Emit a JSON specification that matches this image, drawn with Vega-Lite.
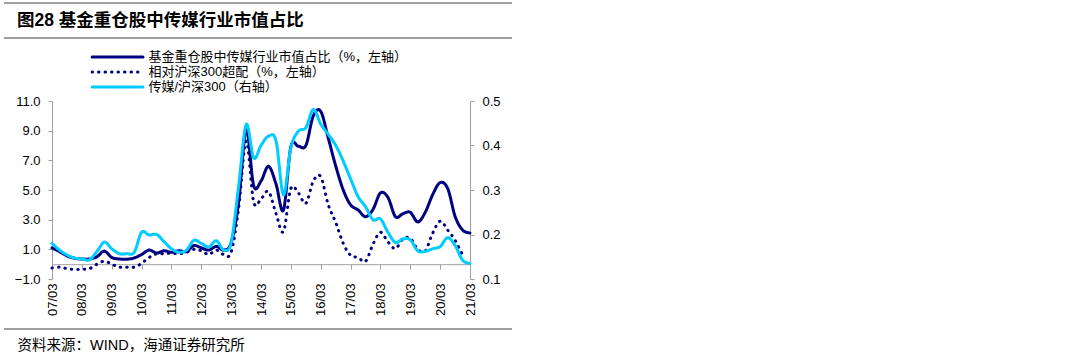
{
  "$schema": "https://vega.github.io/schema/vega-lite/v6.json",
  "width": 418,
  "height": 178,
  "autosize": {"type": "none"},
  "padding": {"left": 52, "top": 101, "right": 610, "bottom": 79},
  "background": "white",
  "config": {
    "view": {"stroke": null},
    "font": "Liberation Sans, Noto Sans CJK SC",
    "axis": {
      "domainColor": "#a0a0a0",
      "tickColor": "#a0a0a0",
      "labelFont": "Liberation Sans, Noto Sans CJK SC",
      "labelFontSize": 13,
      "labelColor": "black",
      "grid": false,
      "tickSize": 4,
      "labelPadding": 8
    }
  },
  "title": {
    "text": "图28 基金重仓股中传媒行业市值占比",
    "anchor": "start",
    "frame": "group",
    "dx": -35,
    "dy": 31,
    "fontSize": 17.5,
    "fontWeight": "bold",
    "font": "Liberation Sans, Noto Sans CJK SC",
    "color": "black"
  },
  "datasets": {
    "d": [
      {"d": "2007-03-01", "a": 1.1, "b": -0.25, "c": 0.180},
      {"d": "2007-06-01", "a": 0.85, "b": -0.2, "c": 0.165},
      {"d": "2007-09-01", "a": 0.56, "b": -0.3, "c": 0.154},
      {"d": "2007-12-01", "a": 0.4, "b": -0.35, "c": 0.147},
      {"d": "2008-03-01", "a": 0.35, "b": -0.35, "c": 0.145},
      {"d": "2008-06-01", "a": 0.35, "b": -0.3, "c": 0.143},
      {"d": "2008-09-01", "a": 0.5, "b": 0.0, "c": 0.162},
      {"d": "2008-12-01", "a": 0.88, "b": 0.2, "c": 0.183},
      {"d": "2009-03-01", "a": 0.45, "b": 0.0, "c": 0.168},
      {"d": "2009-06-01", "a": 0.35, "b": -0.2, "c": 0.157},
      {"d": "2009-09-01", "a": 0.33, "b": -0.2, "c": 0.157},
      {"d": "2009-12-01", "a": 0.42, "b": -0.2, "c": 0.160},
      {"d": "2010-03-01", "a": 0.65, "b": 0.05, "c": 0.205},
      {"d": "2010-06-01", "a": 0.95, "b": 0.45, "c": 0.199},
      {"d": "2010-09-01", "a": 0.75, "b": 0.7, "c": 0.200},
      {"d": "2010-12-01", "a": 0.9, "b": 0.7, "c": 0.184},
      {"d": "2011-03-01", "a": 0.8, "b": 0.75, "c": 0.168},
      {"d": "2011-06-01", "a": 0.9, "b": 0.7, "c": 0.160},
      {"d": "2011-09-01", "a": 0.85, "b": 0.8, "c": 0.165},
      {"d": "2011-12-01", "a": 1.25, "b": 1.0, "c": 0.187},
      {"d": "2012-03-01", "a": 1.1, "b": 0.9, "c": 0.180},
      {"d": "2012-06-01", "a": 0.95, "b": 0.65, "c": 0.172},
      {"d": "2012-09-01", "a": 1.2, "b": 0.95, "c": 0.186},
      {"d": "2012-12-01", "a": 0.95, "b": 0.65, "c": 0.165},
      {"d": "2013-03-01", "a": 1.45, "b": 0.8, "c": 0.182},
      {"d": "2013-06-01", "a": 4.2, "b": 3.8, "c": 0.310},
      {"d": "2013-09-01", "a": 9.1, "b": 8.3, "c": 0.447},
      {"d": "2013-12-01", "a": 5.3, "b": 4.2, "c": 0.372},
      {"d": "2014-03-01", "a": 5.6, "b": 4.4, "c": 0.400},
      {"d": "2014-06-01", "a": 6.6, "b": 4.9, "c": 0.421},
      {"d": "2014-09-01", "a": 5.4, "b": 3.4, "c": 0.410},
      {"d": "2014-12-01", "a": 3.65, "b": 2.2, "c": 0.289},
      {"d": "2015-03-01", "a": 7.9, "b": 5.1, "c": 0.395},
      {"d": "2015-06-01", "a": 7.95, "b": 4.8, "c": 0.432},
      {"d": "2015-09-01", "a": 8.0, "b": 4.1, "c": 0.440},
      {"d": "2015-12-01", "a": 10.0, "b": 5.6, "c": 0.481},
      {"d": "2016-03-01", "a": 10.3, "b": 5.9, "c": 0.448},
      {"d": "2016-06-01", "a": 8.5, "b": 4.0, "c": 0.425},
      {"d": "2016-09-01", "a": 6.6, "b": 2.8, "c": 0.400},
      {"d": "2016-12-01", "a": 5.0, "b": 1.4, "c": 0.365},
      {"d": "2017-03-01", "a": 4.0, "b": 0.6, "c": 0.325},
      {"d": "2017-06-01", "a": 3.65, "b": 0.45, "c": 0.285},
      {"d": "2017-09-01", "a": 3.2, "b": 0.2, "c": 0.262},
      {"d": "2017-12-01", "a": 3.7, "b": 1.35, "c": 0.233},
      {"d": "2018-03-01", "a": 4.8, "b": 2.15, "c": 0.235},
      {"d": "2018-06-01", "a": 4.5, "b": 1.5, "c": 0.205},
      {"d": "2018-09-01", "a": 3.2, "b": 1.05, "c": 0.182},
      {"d": "2018-12-01", "a": 3.4, "b": 1.7, "c": 0.190},
      {"d": "2019-03-01", "a": 3.5, "b": 1.75, "c": 0.188},
      {"d": "2019-06-01", "a": 2.85, "b": 1.0, "c": 0.163},
      {"d": "2019-09-01", "a": 3.5, "b": 0.9, "c": 0.162},
      {"d": "2019-12-01", "a": 4.7, "b": 2.1, "c": 0.168},
      {"d": "2020-03-01", "a": 5.5, "b": 2.9, "c": 0.173},
      {"d": "2020-06-01", "a": 5.1, "b": 2.3, "c": 0.193},
      {"d": "2020-09-01", "a": 3.2, "b": 1.6, "c": 0.175},
      {"d": "2020-12-01", "a": 2.3, "b": 0.6, "c": 0.142},
      {"d": "2021-03-01", "a": 2.1, "b": null, "c": 0.135}
    ]
  },
  "layer": [
    {
      "data": {"name": "d"},
      "transform": [{"fold": ["a", "b"], "as": ["s", "v"]}],
      "mark": {"type": "line", "interpolate": "cardinal", "strokeWidth": 3, "strokeCap": "round"},
      "encoding": {
        "x": {
          "field": "d", "type": "temporal",
          "scale": {"type": "utc", "domain": [{"year": 2007, "month": 3, "date": 1, "utc": true}, {"year": 2021, "month": 3, "date": 1, "utc": true}]},
          "axis": {
            "values": [
              {"year": 2007, "month": 3, "date": 1, "utc": true}, {"year": 2008, "month": 3, "date": 1, "utc": true},
              {"year": 2009, "month": 3, "date": 1, "utc": true}, {"year": 2010, "month": 3, "date": 1, "utc": true},
              {"year": 2011, "month": 3, "date": 1, "utc": true}, {"year": 2012, "month": 3, "date": 1, "utc": true},
              {"year": 2013, "month": 3, "date": 1, "utc": true}, {"year": 2014, "month": 3, "date": 1, "utc": true},
              {"year": 2015, "month": 3, "date": 1, "utc": true}, {"year": 2016, "month": 3, "date": 1, "utc": true},
              {"year": 2017, "month": 3, "date": 1, "utc": true}, {"year": 2018, "month": 3, "date": 1, "utc": true},
              {"year": 2019, "month": 3, "date": 1, "utc": true}, {"year": 2020, "month": 3, "date": 1, "utc": true},
              {"year": 2021, "month": 3, "date": 1, "utc": true}
            ],
            "format": "%y/%m",
            "labelAngle": -90,
            "labelAlign": "right",
            "labelBaseline": "middle",
            "labelFlush": false,
            "labelOverlap": false,
            "domain": false,
            "ticks": false,
            "tickSize": 0,
            "labelPadding": 4,
            "title": "资料来源：WIND，海通证券研究所",
            "titleX": -35,
            "titleY": 70,
            "titleAlign": "left",
            "titleAnchor": "start",
            "titleBaseline": "alphabetic",
            "titleFontSize": 14.5,
            "titleFontWeight": "normal",
            "titleColor": "black",
            "titleFont": "Liberation Sans, Noto Sans CJK SC"
          }
        },
        "y": {
          "field": "v", "type": "quantitative",
          "scale": {"domain": [-1, 11], "nice": false, "zero": false},
          "axis": {"orient": "left", "values": [-1, 1, 3, 5, 7, 9, 11], "format": ".1f", "title": null}
        },
        "color": {
          "field": "s", "type": "nominal",
          "scale": {"domain": ["a", "b", "c"], "range": ["#000080", "#000080", "#00CCFF"]},
          "legend": {
            "title": null, "orient": "none", "legendX": 38.5, "legendY": -51.5, "padding": 0,
            "symbolType": "stroke", "symbolSize": 2601, "symbolStrokeWidth": 3,
            "clipHeight": 15, "rowPadding": 0, "labelOffset": 4,
            "labelFontSize": 13, "labelFont": "Liberation Sans, Noto Sans CJK SC", "labelColor": "black", "labelLimit": 0,
            "labelExpr": "datum.value === 'a' ? '基金重仓股中传媒行业市值占比（%，左轴）' : datum.value === 'b' ? '相对沪深300超配（%，左轴）' : '传媒/沪深300（右轴）'",
            "encode": {"symbols": {"update": {"strokeCap": {"value": "round"}}}}
          }
        },
        "strokeDash": {
          "field": "s", "type": "nominal",
          "scale": {"domain": ["a", "b", "c"], "range": [[1, 0], [0.5, 6], [1, 0]]},
          "legend": {
            "title": null, "orient": "none", "legendX": 38.5, "legendY": -51.5, "padding": 0,
            "symbolType": "stroke", "symbolSize": 2601, "symbolStrokeWidth": 3,
            "clipHeight": 15, "rowPadding": 0, "labelOffset": 4,
            "labelFontSize": 13, "labelFont": "Liberation Sans, Noto Sans CJK SC", "labelColor": "black", "labelLimit": 0,
            "labelExpr": "datum.value === 'a' ? '基金重仓股中传媒行业市值占比（%，左轴）' : datum.value === 'b' ? '相对沪深300超配（%，左轴）' : '传媒/沪深300（右轴）'",
            "encode": {"symbols": {"update": {"strokeCap": {"value": "round"}}}}
          }
        }
      }
    },
    {
      "data": {"name": "d"},
      "transform": [{"fold": ["c"], "as": ["s", "v"]}],
      "mark": {"type": "line", "interpolate": "cardinal", "strokeWidth": 3, "strokeCap": "round"},
      "encoding": {
        "x": {
          "field": "d", "type": "temporal",
          "axis": {
            "values": [
              {"year": 2007, "month": 3, "date": 1, "utc": true}, {"year": 2008, "month": 3, "date": 1, "utc": true},
              {"year": 2009, "month": 3, "date": 1, "utc": true}, {"year": 2010, "month": 3, "date": 1, "utc": true},
              {"year": 2011, "month": 3, "date": 1, "utc": true}, {"year": 2012, "month": 3, "date": 1, "utc": true},
              {"year": 2013, "month": 3, "date": 1, "utc": true}, {"year": 2014, "month": 3, "date": 1, "utc": true},
              {"year": 2015, "month": 3, "date": 1, "utc": true}, {"year": 2016, "month": 3, "date": 1, "utc": true},
              {"year": 2017, "month": 3, "date": 1, "utc": true}, {"year": 2018, "month": 3, "date": 1, "utc": true},
              {"year": 2019, "month": 3, "date": 1, "utc": true}, {"year": 2020, "month": 3, "date": 1, "utc": true},
              {"year": 2021, "month": 3, "date": 1, "utc": true}
            ],
            "orient": "bottom",
            "offset": -14.8,
            "labels": false,
            "domain": true,
            "ticks": true,
            "tickSize": 5,
            "title": null
          }
        },
        "y": {
          "field": "v", "type": "quantitative",
          "scale": {"domain": [0.1, 0.5], "nice": false, "zero": false},
          "axis": {"orient": "right", "values": [0.1, 0.2, 0.3, 0.4, 0.5], "format": ".1f", "title": null}
        },
        "color": {
          "field": "s", "type": "nominal",
          "scale": {"domain": ["a", "b", "c"], "range": ["#000080", "#000080", "#00CCFF"]},
          "legend": {
            "title": null, "orient": "none", "legendX": 38.5, "legendY": -51.5, "padding": 0,
            "symbolType": "stroke", "symbolSize": 2601, "symbolStrokeWidth": 3,
            "clipHeight": 15, "rowPadding": 0, "labelOffset": 4,
            "labelFontSize": 13, "labelFont": "Liberation Sans, Noto Sans CJK SC", "labelColor": "black", "labelLimit": 0,
            "labelExpr": "datum.value === 'a' ? '基金重仓股中传媒行业市值占比（%，左轴）' : datum.value === 'b' ? '相对沪深300超配（%，左轴）' : '传媒/沪深300（右轴）'",
            "encode": {"symbols": {"update": {"strokeCap": {"value": "round"}}}}
          }
        },
        "strokeDash": {
          "field": "s", "type": "nominal",
          "scale": {"domain": ["a", "b", "c"], "range": [[1, 0], [0.5, 6], [1, 0]]},
          "legend": {
            "title": null, "orient": "none", "legendX": 38.5, "legendY": -51.5, "padding": 0,
            "symbolType": "stroke", "symbolSize": 2601, "symbolStrokeWidth": 3,
            "clipHeight": 15, "rowPadding": 0, "labelOffset": 4,
            "labelFontSize": 13, "labelFont": "Liberation Sans, Noto Sans CJK SC", "labelColor": "black", "labelLimit": 0,
            "labelExpr": "datum.value === 'a' ? '基金重仓股中传媒行业市值占比（%，左轴）' : datum.value === 'b' ? '相对沪深300超配（%，左轴）' : '传媒/沪深300（右轴）'",
            "encode": {"symbols": {"update": {"strokeCap": {"value": "round"}}}}
          }
        }
      }
    },
    {
      "data": {"values": [{}]},
      "mark": {"type": "rule", "color": "#404040", "strokeWidth": 1},
      "encoding": {"x": {"value": -48}, "x2": {"value": 460}, "y": {"value": -98}}
    },
    {
      "data": {"values": [{}]},
      "mark": {"type": "rule", "color": "#404040", "strokeWidth": 1},
      "encoding": {"x": {"value": -48}, "x2": {"value": 460}, "y": {"value": -63}}
    },
    {
      "data": {"values": [{}]},
      "mark": {"type": "rule", "color": "#404040", "strokeWidth": 1},
      "encoding": {"x": {"value": -48}, "x2": {"value": 460}, "y": {"value": 228}}
    }
  ],
  "resolve": {"scale": {"y": "independent"}, "axis": {"x": "independent", "y": "independent"}}
}
